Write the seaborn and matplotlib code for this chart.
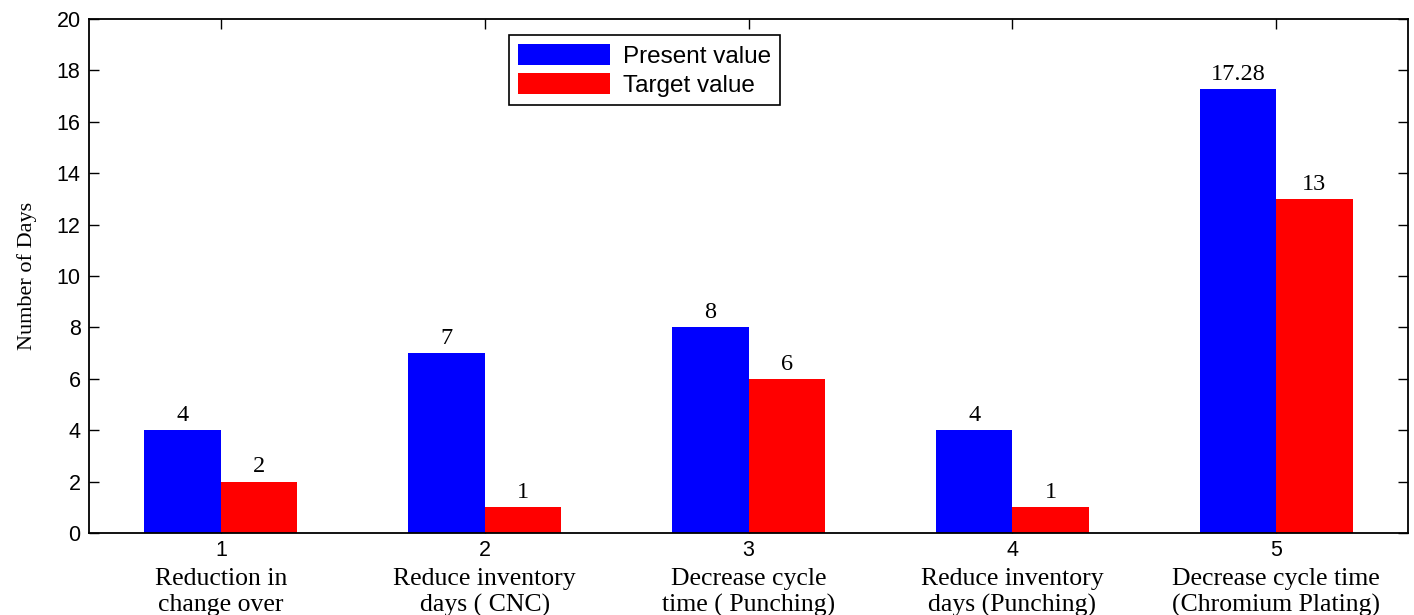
import matplotlib
matplotlib.use("Agg")
import matplotlib.pyplot as plt
import seaborn as sns
import pandas as pd

# Data
categories = ["1", "2", "3", "4", "5"]
descriptions = [
    "Reduction in\nchange over",
    "Reduce inventory\ndays ( CNC)",
    "Decrease cycle\ntime ( Punching)",
    "Reduce inventory\ndays (Punching)",
    "Decrease cycle time\n(Chromium Plating)",
]
present_value = [4, 7, 8, 4, 17.28]
target_value = [2, 1, 6, 1, 13]
series_names = ["Present value", "Target value"]
y_ticks = list(range(0, 21, 2))

df = pd.DataFrame({
    "category": categories * 2,
    "series": [series_names[0]] * len(categories) + [series_names[1]] * len(categories),
    "days": present_value + target_value,
})

sns.set_theme(style="white")
plt.rcParams["font.family"] = ["Liberation Sans", "DejaVu Sans"]
plt.rcParams["text.color"] = "black"
plt.rcParams["axes.labelcolor"] = "black"
plt.rcParams["xtick.color"] = "black"
plt.rcParams["ytick.color"] = "black"

fig = plt.figure(figsize=(14.14, 6.15), dpi=100)
ax = fig.add_axes([0.0629, 0.1333, 0.9329, 0.8358])

sns.barplot(
    data=df, x="category", y="days", hue="series",
    palette=["#0000ff", "#ff0000"], width=0.58, errorbar=None,
    saturation=1, linewidth=0, ax=ax,
)

ax.set_xlim(-0.5, len(categories) - 0.5)
ax.set_ylim(0, 20)
ax.set_yticks(y_ticks)
ax.set_yticklabels([str(t) for t in y_ticks], fontsize=15.5)
ax.set_xticks(range(len(categories)))
ax.set_xticklabels(categories, fontsize=15.5)
ax.set_xlabel("")
ax.set_ylabel("Number of Days", family=["Liberation Serif"], fontsize=16, labelpad=14)

ax.tick_params(axis="both", direction="in", length=7, width=1, color="black",
               top=True, right=True, bottom=True, left=True, pad=6, labelcolor="black")
ax.tick_params(axis="x", pad=5)
for s in ax.spines.values():
    s.set_visible(True)
    s.set_color("black")
    s.set_linewidth(1.3)

# Value labels above bars
for cont, vals in zip(ax.containers, [present_value, target_value]):
    ax.bar_label(cont, labels=[f"{v:g}" for v in vals], padding=3,
                 family=["Liberation Serif"], fontsize=17.5, color="black")

# Category descriptions under tick numbers
for i, desc in enumerate(descriptions):
    ax.text(i, -0.068, desc, transform=ax.get_xaxis_transform(), ha="center", va="top",
            family=["Liberation Serif"], fontsize=18.5, linespacing=1.22,
            color="black", clip_on=False)

handles, labels = ax.get_legend_handles_labels()
leg = ax.legend(handles, labels, loc="upper left", bbox_to_anchor=(509 / 1414, 1 - 35 / 615),
                bbox_transform=fig.transFigure, borderaxespad=0, fontsize=17.5,
                frameon=True, fancybox=False, edgecolor="black", framealpha=1,
                handlelength=3.8, handleheight=1.0, labelspacing=0.2, borderpad=0.35,
                handletextpad=0.55, labelcolor="black")
leg.get_frame().set_linewidth(1.2)

fig.savefig("out.png", dpi=100, facecolor="white")
